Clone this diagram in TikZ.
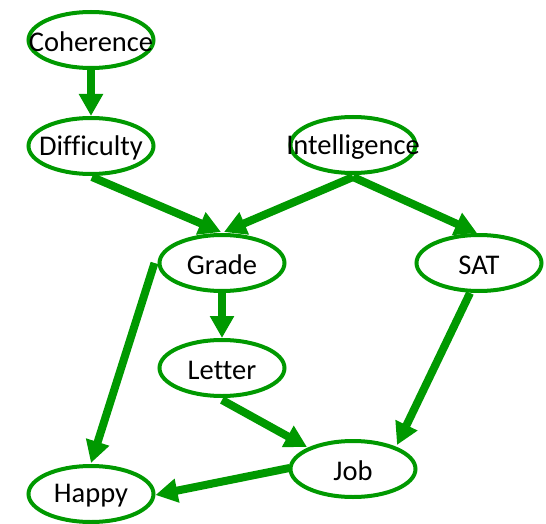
\documentclass[tikz,border=0pt]{standalone}
\usepackage{fontspec}
\setmainfont{Carlito}[Ligatures=CommonOff]
\usetikzlibrary{shapes.geometric,arrows.meta,calc}
\definecolor{bng}{RGB}{0,153,0}
\tikzset{
 var/.style={ellipse, draw=bng, line width=4pt, minimum width=125pt, minimum height=56pt, inner sep=0pt,
   label={[font=\fontsize{28.5}{30}\selectfont, inner sep=0pt, yshift=-2pt]center:#1}},
 edge/.style={draw=bng, line width=8pt, -{Triangle[width=23pt,length=22pt]}},
}
\begin{document}
\begin{tikzpicture}[x=1pt,y=-1pt]
\useasboundingbox (0,0) rectangle (546,524);
\node[var=Coherence] (coh) at (91,40) {};
\node[var=Difficulty] (dif) at (91,146) {};
\node[var=Intelligence] (int) at (353,145) {};
\node[var=Grade] (gra) at (222,263) {};
\node[var=SAT] (sat) at (479,263) {};
\node[var=Letter] (let) at (222,368) {};
\node[var=Job] (job) at (353,469) {};
\node[var=Happy] (hap) at (91,494) {};
\draw[edge] (coh.south) -- (dif.north);
\draw[edge] ($(dif.south)+(1,1)$) -- ($(gra.north)+(-1,-1)$);
\draw[edge] ($(int.south)+(0,2)$) -- ($(gra.north)+(2,-1)$);
\draw[edge] ($(int.south)+(0,2)$) -- ($(sat.north)+(-2,0)$);
\draw[edge] (gra.south) -- (let.north);
\draw[edge] ($(gra.west)+(-3,0)$) -- ($(hap.north)+(0,-1)$);
\draw[edge] ($(let.south)+(0,2)$) -- ($(job.center)+(-46,-22)$);
\draw[edge] ($(sat.south)+(-9,0)$) -- ($(job.center)+(44,-24)$);
\draw[edge] ($(job.west)+(1,-1)$) -- ($(hap.east)+(0,1)$);
\end{tikzpicture}
\end{document}
